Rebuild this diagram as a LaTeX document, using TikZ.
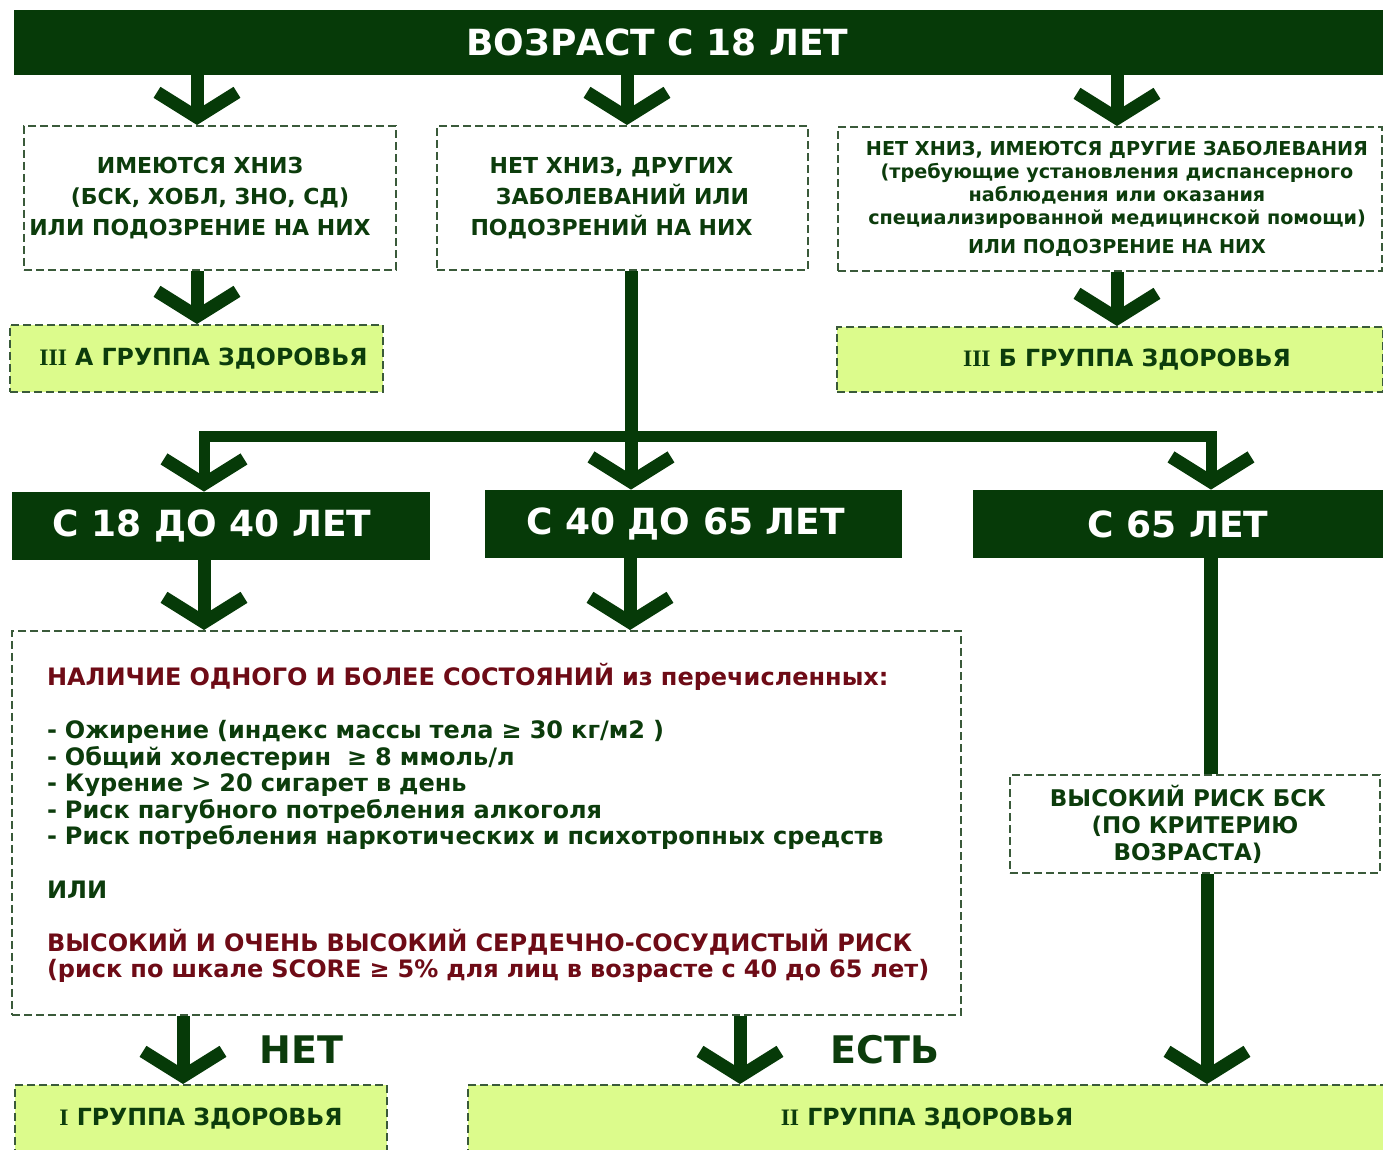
\documentclass[tikz,border=0pt]{standalone}
\usepackage{fontspec}
\setmainfont{DejaVu Sans}
\newfontfamily\romfont{Liberation Serif}
\usetikzlibrary{arrows.meta}
\definecolor{dkgreen}{HTML}{063A08}
\definecolor{txtgreen}{HTML}{0C3C0C}
\definecolor{ltgreen}{HTML}{DCFB8C}
\definecolor{dashgreen}{HTML}{3A5A3A}
\definecolor{dkred}{HTML}{6E0B16}
\begin{document}
\begin{tikzpicture}[x=0.5pt,y=-0.5pt]
	\tikzstyle{agebar}=[fill=dkgreen, text=white, inner sep=0pt, font=\bfseries\fontsize{18}{21}\selectfont]
	\tikzstyle{cond}=[draw=dashgreen, line width=1pt, dash pattern=on 4pt off 2pt, fill=white, text=txtgreen, inner sep=0pt, align=center, font=\bfseries\fontsize{11}{15.5}\selectfont]
	\tikzstyle{group}=[cond, fill=ltgreen, font=\bfseries\fontsize{11.8}{14}\selectfont]
	\tikzstyle{bigarrow}=[draw=dkgreen, line width=6.5pt, -{Straight Barb[sharp, length=12.5pt, width=40pt, line width=6.5pt]}]
	\tikzstyle{answer}=[text=txtgreen, inner sep=0pt, font=\bfseries\fontsize{19}{21}\selectfont]
	\useasboundingbox (0,0) rectangle (1383,1150);
	
	% Age
	\node at (698.5, 42.5) [agebar, minimum width=684.5pt, minimum height=32.5pt] (age) {ВОЗРАСТ С 18 ЛЕТ\hspace*{41pt}};
	
	% Diseases
	\node at (210, 198) [cond, minimum width=186pt, minimum height=72pt] (chronic) {ИМЕЮТСЯ ХНИЗ\hspace*{10pt}\\(БСК, ХОБЛ, ЗНО, СД)\hspace*{10pt}\\ИЛИ ПОДОЗРЕНИЕ НА НИХ\hspace*{10pt}};
	\node at (622.5, 198) [cond, minimum width=185.5pt, minimum height=72pt] (healthy) {НЕТ ХНИЗ, ДРУГИХ\hspace*{11pt}\\ЗАБОЛЕВАНИЙ ИЛИ\hspace*{11pt}\\ПОДОЗРЕНИЙ НА НИХ\hspace*{11pt}};
	\node at (1110, 199) [cond, minimum width=272pt, minimum height=72pt, font=\bfseries\fontsize{9.6}{11.5}\selectfont] (other) {\hspace*{7pt}НЕТ ХНИЗ, ИМЕЮТСЯ ДРУГИЕ ЗАБОЛЕВАНИЯ\\\hspace*{7pt}(требующие установления диспансерного\\\hspace*{7pt}наблюдения или оказания\\\hspace*{7pt}специализированной медицинской помощи)\\[3pt]\hspace*{7pt}ИЛИ ПОДОЗРЕНИЕ НА НИХ};
	
	\node at (196.5, 358.5) [group, minimum width=186.5pt, minimum height=33.5pt] (groupIIIa) {\hspace*{7pt}{\romfont III} А ГРУППА ЗДОРОВЬЯ};
	\node at (1110, 359.5) [group, minimum width=273pt, minimum height=32.5pt] (groupIIIb) {\hspace*{17pt}{\romfont III} Б ГРУППА ЗДОРОВЬЯ};
	
	% Age ranges
	\node at (221, 526) [agebar, minimum width=209pt, minimum height=34pt] (young) {С 18 ДО 40 ЛЕТ\hspace*{9pt}};
	\node at (693.5, 524) [agebar, minimum width=208.5pt, minimum height=34pt] (middle) {С 40 ДО 65 ЛЕТ\hspace*{8pt}};
	\node at (1178, 524) [agebar, minimum width=205pt, minimum height=34pt] (senior) {С 65 ЛЕТ};
	
	% Risk factors
	\node at (486.5, 823) [cond, align=left, inner xsep=17.5pt, text width=439.5pt, minimum height=192pt, font=\bfseries\fontsize{12}{13.3}\selectfont] (factors) {\textcolor{dkred}{НАЛИЧИЕ ОДНОГО И БОЛЕЕ СОСТОЯНИЙ из перечисленных:}\\[13.3pt]
		- Ожирение (индекс массы тела ≥ 30 кг/м2 )\\
		- Общий холестерин\ \ ≥ 8 ммоль/л\\
		- Курение > 20 сигарет в день\\
		- Риск пагубного потребления алкоголя\\
		- Риск потребления наркотических и психотропных средств\\[13.3pt]
		ИЛИ\\[13.3pt]
		\textcolor{dkred}{ВЫСОКИЙ И ОЧЕНЬ ВЫСОКИЙ СЕРДЕЧНО-СОСУДИСТЫЙ РИСК}\\
		\mbox{\textcolor{dkred}{(риск по шкале SCORE ≥ 5\% для лиц в возрасте с 40 до 65 лет)}}};
	\node at (1195, 824) [cond, minimum width=185pt, minimum height=49pt, font=\bfseries\fontsize{11.5}{13.5}\selectfont] (agerisk) {ВЫСОКИЙ РИСК БСК\hspace*{7pt}\\(ПО КРИТЕРИЮ\hspace*{7pt}\\ВОЗРАСТА)\hspace*{7pt}};
	
	% Groups
	\node at (201, 1119) [group, minimum width=186pt, minimum height=34pt] (groupI) {{\romfont I} ГРУППА ЗДОРОВЬЯ};
	\node at (927, 1119) [group, minimum width=459pt, minimum height=34pt] (groupII) {{\romfont II} ГРУППА ЗДОРОВЬЯ};
	
	\draw [bigarrow] (197,0 |- age.south) -- (197,0 |- chronic.north);
	\draw [bigarrow] (627,0 |- age.south) -- (627,0 |- healthy.north);
	\draw [bigarrow] (1117,0 |- age.south) -- (1117,0 |- other.north);
	\draw [bigarrow] (197,0 |- chronic.south) -- (197,0 |- groupIIIa.north);
	\draw [bigarrow] (1117,0 |- other.south) -- (1117,0 |- groupIIIb.north);
	
	\coordinate (split) at (631, 437);
	\draw [bigarrow, line width=5.5pt] (split) -- (204,437) -- (204,0 |- young.north);
	\draw [bigarrow, line width=5.5pt] (split) -- (1211,437) -- (1211,0 |- senior.north);
	\draw [bigarrow] (631,0 |- healthy.south) -- (631,0 |- middle.north);
	
	\draw [bigarrow] (204,0 |- young.south) -- (204,0 |- factors.north);
	\draw [bigarrow] (630,0 |- middle.south) -- (630,0 |- factors.north);
	\draw [draw=dkgreen, line width=7pt] (1211,0 |- senior.south) -- (1211,0 |- agerisk.north);
	\draw [bigarrow] (1207,0 |- agerisk.south) -- (1207,0 |- groupII.north);
	
	\draw [bigarrow] (183,0 |- factors.south) -- node[answer, right=35pt]{НЕТ} (183,0 |- groupI.north);
	\draw [bigarrow] (740,0 |- factors.south) -- node[answer, right=42pt]{ЕСТЬ} (740,0 |- groupII.north);
\end{tikzpicture}
\end{document}
